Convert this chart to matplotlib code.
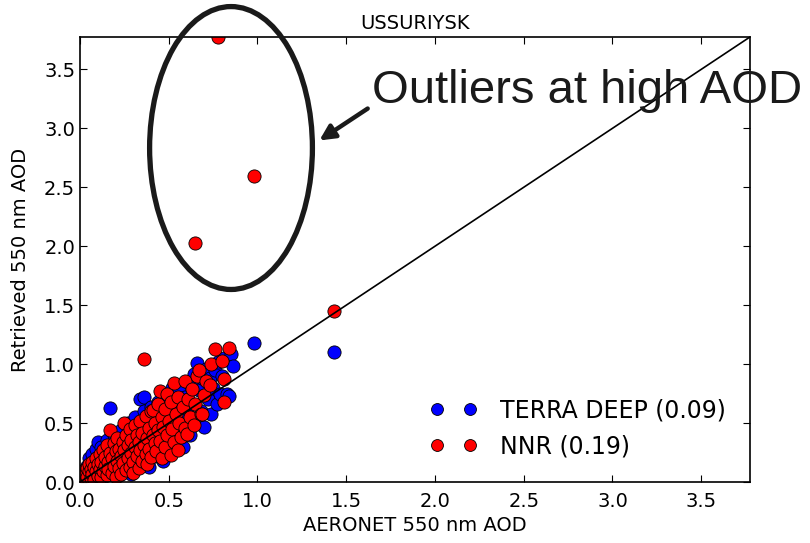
import matplotlib.pyplot as plt
from matplotlib.patches import Ellipse

# AERONET vs retrieved AOD at 550 nm, Ussuriysk
terra_x = [0.02, 0.03, 0.04, 0.04, 0.05, 0.05, 0.06, 0.07, 0.07, 0.08, 0.08, 0.09, 0.10, 0.10,
           0.11, 0.12, 0.12, 0.13, 0.14, 0.15, 0.15, 0.16, 0.17, 0.17, 0.18, 0.19, 0.20, 0.20,
           0.21, 0.22, 0.23, 0.24, 0.25, 0.26, 0.27, 0.28, 0.29, 0.30, 0.31, 0.32, 0.33, 0.34,
           0.35, 0.36, 0.36, 0.37, 0.38, 0.39, 0.40, 0.41, 0.42, 0.43, 0.44, 0.45, 0.46, 0.47,
           0.48, 0.49, 0.50, 0.51, 0.52, 0.53, 0.54, 0.55, 0.56, 0.57, 0.58, 0.59, 0.60, 0.61,
           0.62, 0.63, 0.64, 0.65, 0.66, 0.66, 0.67, 0.68, 0.69, 0.70, 0.71, 0.72, 0.73, 0.74,
           0.75, 0.76, 0.77, 0.78, 0.79, 0.80, 0.81, 0.83, 0.84, 0.85, 0.86, 0.98, 1.43]
terra_y = [0.03, 0.09, 0.01, 0.14, 0.06, 0.20, 0.02, 0.11, 0.24, 0.05, 0.17, 0.28, 0.34, 0.08,
           0.21, 0.13, 0.30, 0.04, 0.25, 0.36, 0.10, 0.19, 0.63, 0.30, 0.07, 0.40, 0.15, 0.27,
           0.34, 0.06, 0.44, 0.21, 0.30, 0.12, 0.50, 0.38, 0.07, 0.26, 0.55, 0.44, 0.18, 0.70,
           0.35, 0.72, 0.60, 0.28, 0.50, 0.13, 0.64, 0.40, 0.22, 0.57, 0.68, 0.33, 0.50, 0.18,
           0.73, 0.42, 0.60, 0.28, 0.80, 0.52, 0.36, 0.66, 0.78, 0.45, 0.30, 0.72, 0.58, 0.85,
           0.40, 0.66, 0.92, 0.52, 1.01, 0.80, 0.78, 0.60, 0.88, 0.47, 0.96, 0.70, 0.88, 0.58,
           0.80, 0.95, 0.66, 1.02, 0.75, 0.90, 1.05, 0.75, 0.73, 1.09, 0.98, 1.18, 1.10]

nnr_x = [0.01, 0.02, 0.02, 0.03, 0.03, 0.04, 0.04, 0.05, 0.05, 0.06, 0.06, 0.07, 0.07, 0.08,
         0.08, 0.09, 0.09, 0.10, 0.10, 0.11, 0.11, 0.12, 0.12, 0.13, 0.13, 0.14, 0.14, 0.15,
         0.15, 0.16, 0.16, 0.17, 0.17, 0.18, 0.18, 0.19, 0.19, 0.20, 0.20, 0.21, 0.21, 0.22,
         0.22, 0.23, 0.23, 0.24, 0.24, 0.25, 0.25, 0.26, 0.26, 0.27, 0.27, 0.28, 0.28, 0.29,
         0.29, 0.30, 0.30, 0.31, 0.31, 0.32, 0.32, 0.33, 0.33, 0.34, 0.34, 0.35, 0.35, 0.36,
         0.36, 0.37, 0.37, 0.38, 0.38, 0.39, 0.39, 0.40, 0.40, 0.41, 0.41, 0.42, 0.42, 0.43,
         0.44, 0.44, 0.45, 0.45, 0.46, 0.46, 0.47, 0.48, 0.48, 0.49, 0.49, 0.50, 0.51, 0.51,
         0.52, 0.53, 0.53, 0.54, 0.55, 0.55, 0.56, 0.57, 0.58, 0.59, 0.59, 0.60, 0.61, 0.62,
         0.63, 0.64, 0.65, 0.66, 0.67, 0.68, 0.69, 0.70, 0.71, 0.73, 0.74, 0.76, 0.80, 0.81,
         0.81, 0.84, 1.43, 0.65, 0.98, 0.78]
nnr_y = [0.01, 0.05, 0.10, 0.02, 0.07, 0.12, 0.04, 0.09, 0.15, 0.03, 0.11, 0.07, 0.17, 0.02,
         0.13, 0.09, 0.20, 0.05, 0.15, 0.11, 0.24, 0.04, 0.17, 0.09, 0.27, 0.14, 0.21, 0.06,
         0.31, 0.17, 0.11, 0.44, 0.25, 0.08, 0.20, 0.14, 0.33, 0.26, 0.04, 0.18, 0.37, 0.12,
         0.28, 0.22, 0.07, 0.34, 0.16, 0.50, 0.27, 0.10, 0.40, 0.20, 0.31, 0.13, 0.45, 0.25,
         0.36, 0.17, 0.08, 0.30, 0.48, 0.22, 0.40, 0.12, 0.34, 0.27, 0.52, 0.18, 0.42, 1.04,
         0.31, 0.24, 0.56, 0.37, 0.15, 0.46, 0.28, 0.60, 0.21, 0.40, 0.61, 0.33, 0.50, 0.26,
         0.44, 0.66, 0.77, 0.35, 0.55, 0.20, 0.47, 0.62, 0.30, 0.75, 0.40, 0.52, 0.23, 0.68,
         0.45, 0.84, 0.34, 0.58, 0.27, 0.72, 0.50, 0.38, 0.64, 0.86, 0.46, 0.41, 0.70, 0.55,
         0.79, 0.48, 0.66, 0.90, 0.95, 0.58, 0.58, 0.74, 0.86, 0.82, 1.00, 1.13, 1.03, 0.87,
         0.68, 1.14, 1.45, 2.03, 2.60, 3.775]

labels = ["TERRA DEEP (0.09)", "NNR (0.19)"]
site = "USSURIYSK"

plt.rcParams['xtick.direction'] = 'in'
plt.rcParams['ytick.direction'] = 'in'
plt.rcParams['xtick.top'] = True
plt.rcParams['ytick.right'] = True
plt.rcParams['xtick.major.size'] = 5
plt.rcParams['ytick.major.size'] = 5

fig = plt.figure(figsize=(8.1, 5.43), dpi=100)
ax = fig.add_axes([0.0988, 0.1123, 0.8271, 0.8196])

ax.plot(terra_x, terra_y, 'o', color='blue', mec='black', mew=0.6, ms=9.5, label=labels[0])
ax.plot(nnr_x, nnr_y, 'o', color='red', mec='black', mew=0.6, ms=9.5, label=labels[1])

top = max(max(nnr_x), max(nnr_y), max(terra_x), max(terra_y))
ax.plot([0, top], [0, top], color='black', lw=1.2)
ax.set_xlim(0, top)
ax.set_ylim(0, top)
ax.set_xticks([0, 0.5, 1.0, 1.5, 2.0, 2.5, 3.0, 3.5])
ax.set_yticks([0, 0.5, 1.0, 1.5, 2.0, 2.5, 3.0, 3.5])
ax.tick_params(labelsize=14)
ax.tick_params(axis='x', pad=7)
for s in ax.spines.values():
    s.set_linewidth(1.2)

ax.set_title(site, fontsize=14)
ax.set_xlabel("AERONET 550 nm AOD", fontsize=14, labelpad=4)
ax.set_ylabel("Retrieved 550 nm AOD", fontsize=14, labelpad=10)
ax.legend(loc='lower right', numpoints=2, frameon=False, fontsize=17,
          handletextpad=1.0, borderaxespad=0.6, markerscale=0.9)

# outlier callout
ell = Ellipse((0.2852, 0.7274), 0.201, 0.521, transform=fig.transFigure,
              fill=False, edgecolor='#1a1a1a', lw=3.8, clip_on=False)
fig.patches.append(ell)
ax.annotate("", xy=(0.3914, 0.7385), xytext=(0.4568, 0.8029),
            xycoords='figure fraction', textcoords='figure fraction',
            arrowprops=dict(arrowstyle='-|>,head_length=0.9,head_width=0.45',
                            color='#1a1a1a', lw=3.2))
fig.text(0.459, 0.810, "Outliers at high AOD", fontsize=34, color='#1a1a1a',
         family='Liberation Sans', va='baseline', ha='left')

fig.savefig("out.png", dpi=100)
